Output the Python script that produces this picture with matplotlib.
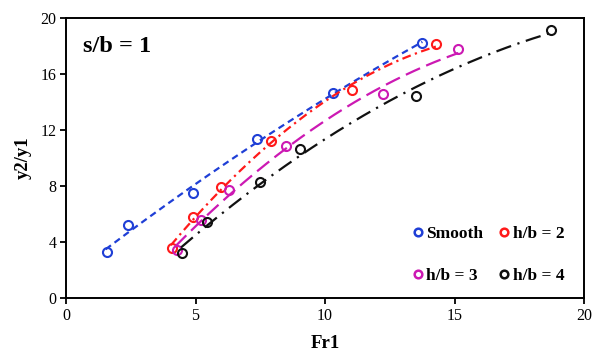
import numpy as np
import matplotlib.pyplot as plt
from matplotlib.lines import Line2D

plt.rcParams['font.family'] = ['Liberation Serif', 'DejaVu Serif']

# data
smooth_x = [1.58, 2.39, 4.92, 7.36, 10.30, 13.76]
smooth_y = [3.29, 5.21, 7.48, 11.36, 14.62, 18.24]
h2_x = [4.10, 4.92, 5.98, 7.90, 11.04, 14.29]
h2_y = [3.55, 5.81, 7.95, 11.24, 14.86, 18.12]
h3_x = [4.27, 5.21, 6.29, 8.48, 12.25, 15.15]
h3_y = [3.43, 5.57, 7.71, 10.86, 14.57, 17.76]
h4_x = [4.49, 5.43, 7.49, 9.03, 13.51, 18.73]
h4_y = [3.19, 5.45, 8.31, 10.62, 14.43, 19.14]

labels = ['Smooth', 'h/b = 2', 'h/b = 3', 'h/b = 4']
colors = ['#1f3fd6', '#ff1a1a', '#cc19b3', '#111111']
dashes = [(3, 2), (4, 2, 1, 2), (7, 3), (7, 3, 1, 3)]

series = [(smooth_x, smooth_y), (h2_x, h2_y), (h3_x, h3_y), (h4_x, h4_y)]

fig = plt.figure(figsize=(5.97, 3.58), dpi=100)
ax = fig.add_axes([66/597, 1-298/358, (584-66)/597, (298-18)/358])

handles = []
for (x, y), lab, c, d in zip(series, labels, colors, dashes):
    x = np.array(x)
    y = np.array(y)
    # 2nd order polynomial trendline
    p = np.polyfit(x, y, 2)
    xs = np.linspace(x.min() - 0.05, x.max(), 200)
    ax.plot(xs, np.polyval(p, xs), color=c, lw=1.6, dashes=d)
    ax.plot(x, y, 'o', mfc='none', mec=c, mew=1.5, ms=6.5)
    handles.append(Line2D([], [], ls='none', marker='o', mfc='none',
                          mec=c, mew=1.8, ms=5.5, label=lab))

ax.set_xlim(0, 20)
ax.set_ylim(0, 20)
ax.set_xticks([0, 5, 10, 15, 20])
ax.set_yticks([0, 4, 8, 12, 16, 20])
ax.tick_params(direction='out', length=4, width=1.3, labelsize=11.5, pad=3)
for s in ax.spines.values():
    s.set_linewidth(1.4)

ax.set_xlabel('Fr1', fontsize=13.5, fontweight='bold', labelpad=8)
ax.set_ylabel('y2/y1', fontsize=13.5, fontweight='bold', labelpad=6)
ax.text(0.032, 0.9, 's/b = 1', transform=ax.transAxes, fontsize=17.5,
        fontweight='bold', va='center')

# legend fills column-wise, so reorder to get rows Smooth/h2, h3/h4
order = [0, 2, 1, 3]
ax.legend(handles=[handles[i] for i in order], ncol=2, loc='lower right',
          bbox_to_anchor=(0.989, 0.0), frameon=False,
          prop={'weight': 'bold', 'size': 12.5}, handletextpad=0.0,
          handlelength=1.0, columnspacing=0.7, labelspacing=1.5,
          borderaxespad=0.4)

fig.savefig('out.png', dpi=100)
